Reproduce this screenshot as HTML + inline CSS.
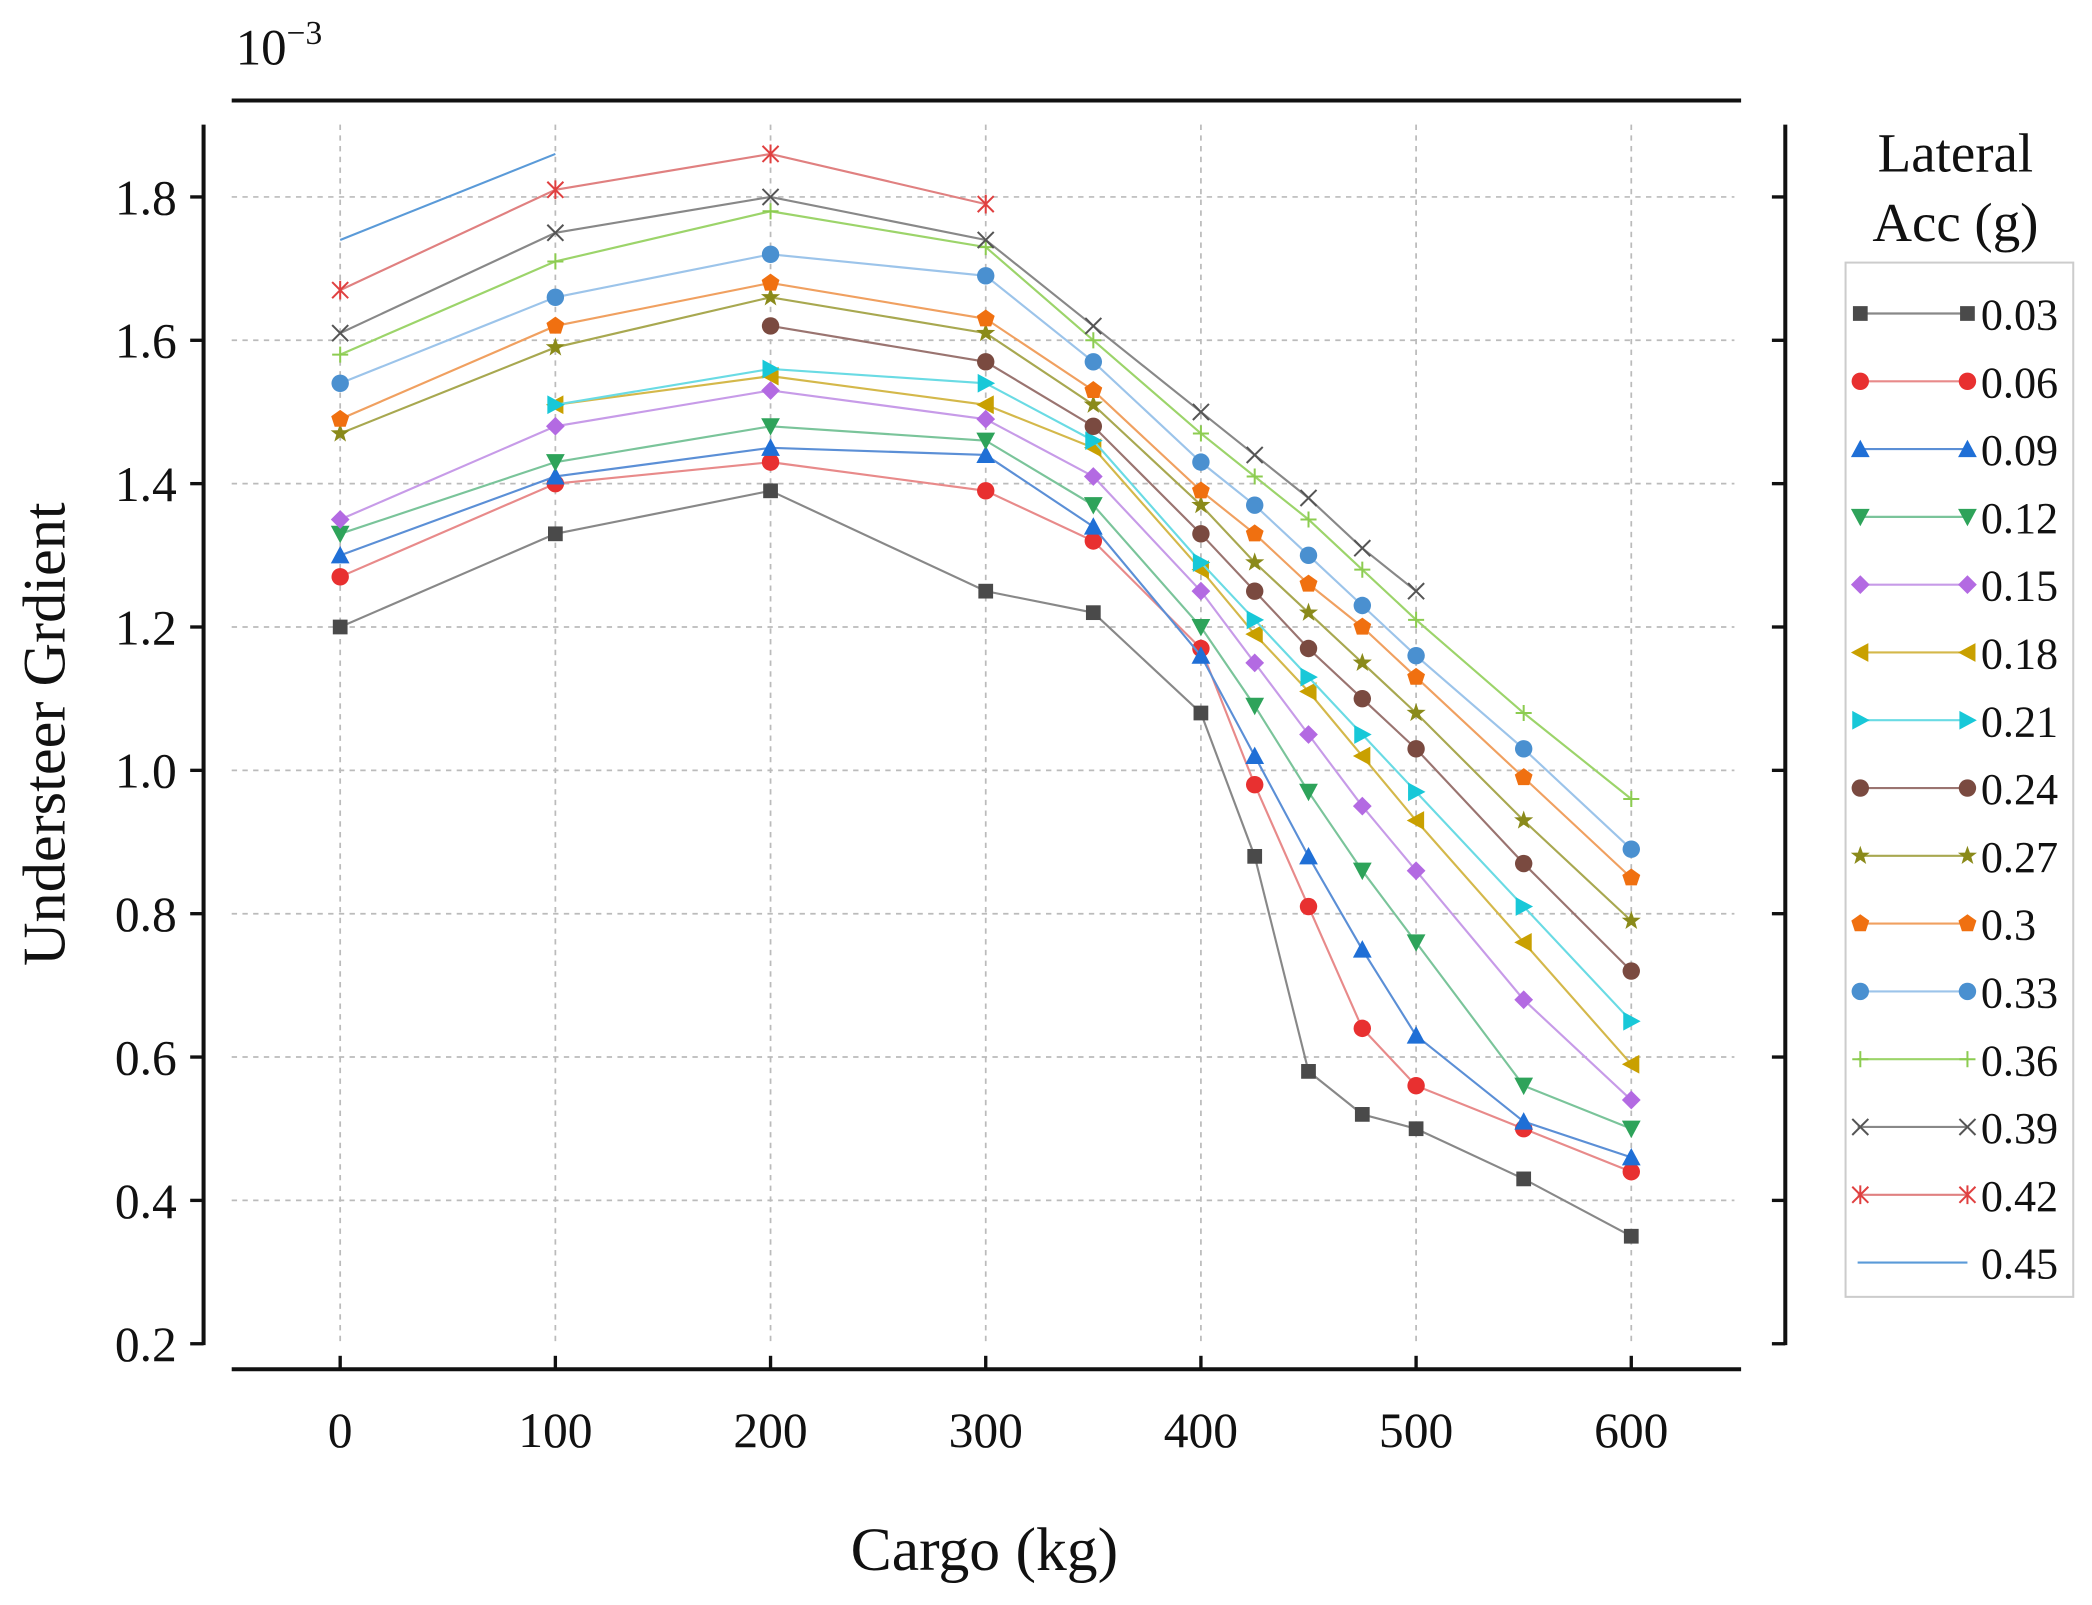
<!DOCTYPE html>
<html><head><meta charset="utf-8"><style>
html,body{margin:0;padding:0;background:#fff;}
svg{display:block;}
text{font-family:"Liberation Serif",serif;fill:#111;}
</style></head><body>
<svg id="s" width="2092" height="1605" viewBox="0 0 1562 1198" preserveAspectRatio="none" xmlns="http://www.w3.org/2000/svg">
<rect width="1562" height="1198" fill="#fff"/>
<g id="grid" stroke="#bbb" stroke-width="1.3" stroke-dasharray="4,4" fill="none"></g>
<g stroke="#111" stroke-width="3" fill="none">
<line x1="173" y1="75" x2="1300" y2="75"/>
<line x1="173" y1="1022" x2="1300" y2="1022"/>
<line x1="152" y1="93" x2="152" y2="1004"/>
<line x1="1333" y1="93" x2="1333" y2="1004"/>
</g>
<g id="ticks" stroke="#111" stroke-width="2.5"></g>
<g id="labels" font-size="37"></g>
<text x="176" y="48" font-size="38">10<tspan dy="-15" font-size="25">−3</tspan></text>
<text transform="translate(48,548) rotate(-90)" text-anchor="middle" font-size="45">Understeer Grdient</text>
<text x="735" y="1172" text-anchor="middle" font-size="46">Cargo (kg)</text>
<text x="1460" y="128" text-anchor="middle" font-size="41">Lateral</text>
<text x="1460" y="180" text-anchor="middle" font-size="41">Acc (g)</text>
<rect x="1378" y="196" width="170" height="772" fill="#fff" stroke="#ccc" stroke-width="1.5"/>
<g id="series"></g>
<g id="legend"></g>
</svg>
<script>
const NS="http://www.w3.org/2000/svg";
function el(p,t,a,txt){const e=document.createElementNS(NS,t);for(const k in a)e.setAttribute(k,a[k]);if(txt!=null)e.textContent=txt;p.appendChild(e);return e;}
const X=v=>254+v*(964/600), Y=v=>1003-(v-0.2)*535;
const grid=document.getElementById('grid'),ticks=document.getElementById('ticks'),labels=document.getElementById('labels');
for(let k=0;k<=6;k++){const x=X(k*100);el(grid,'line',{x1:x,y1:93,x2:x,y2:1003});el(ticks,'line',{x1:x,y1:1022,x2:x,y2:1012});el(labels,'text',{x:x,y:1080,'text-anchor':'middle'},String(k*100));}
for(let k=1;k<=9;k++){const v=k*0.2,y=Y(v);if(k>1)el(grid,'line',{x1:173,y1:y,x2:1295,y2:y});el(ticks,'line',{x1:142,y1:y,x2:152,y2:y});el(ticks,'line',{x1:1323,y1:y,x2:1333,y2:y});el(labels,'text',{x:132,y:y+13,'text-anchor':'end'},v.toFixed(1));}
const xs=[0,100,200,300,350,400,425,450,475,500,550,600];
const S=[
["0.03","#4a4a4a","#888","sq",[1.20,1.33,1.39,1.25,1.22,1.08,0.88,0.58,0.52,0.50,0.43,0.35]],
["0.06","#e83030","#e88a8a","ci",[1.27,1.40,1.43,1.39,1.32,1.17,0.98,0.81,0.64,0.56,0.50,0.44]],
["0.09","#1f6fd6","#5b8fd6","tu",[1.30,1.41,1.45,1.44,1.34,1.16,1.02,0.88,0.75,0.63,0.51,0.46]],
["0.12","#2ea35a","#7ac49a","td",[1.33,1.43,1.48,1.46,1.37,1.20,1.09,0.97,0.86,0.76,0.56,0.50]],
["0.15","#b36ae2","#c79be8","di",[1.35,1.48,1.53,1.49,1.41,1.25,1.15,1.05,0.95,0.86,0.68,0.54]],
["0.18","#c9a000","#d4b84a","tl",[null,1.51,1.55,1.51,1.45,1.28,1.19,1.11,1.02,0.93,0.76,0.59]],
["0.21","#18c8d8","#6adbe4","tr",[null,1.51,1.56,1.54,1.46,1.29,1.21,1.13,1.05,0.97,0.81,0.65]],
["0.24","#7a4a40","#9a7470","ci",[null,null,1.62,1.57,1.48,1.33,1.25,1.17,1.10,1.03,0.87,0.72]],
["0.27","#8a8a1a","#a8a850","st",[1.47,1.59,1.66,1.61,1.51,1.37,1.29,1.22,1.15,1.08,0.93,0.79]],
["0.3","#f07010","#f0a060","pe",[1.49,1.62,1.68,1.63,1.53,1.39,1.33,1.26,1.20,1.13,0.99,0.85]],
["0.33","#4a90d0","#9cc4ea","ci",[1.54,1.66,1.72,1.69,1.57,1.43,1.37,1.30,1.23,1.16,1.03,0.89]],
["0.36","#8ccc50","#9cd46a","pl",[1.58,1.71,1.78,1.73,1.60,1.47,1.41,1.35,1.28,1.21,1.08,0.96]],
["0.39","#555","#888","xx",[1.61,1.75,1.80,1.74,1.62,1.50,1.44,1.38,1.31,1.25,null,null]],
["0.42","#e04040","#e08080","as",[1.67,1.81,1.86,1.79,null,null,null,null,null,null,null,null]],
["0.45","#5a9ad8","#5a9ad8","no",[1.74,1.86,null,null,null,null,null,null,null,null,null,null]]];
function mk(g,t,x,y,c){const r=6.5;
switch(t){
case"sq":el(g,'rect',{x:x-5.5,y:y-5.5,width:11,height:11,fill:c});break;
case"ci":el(g,'circle',{cx:x,cy:y,r:r,fill:c});break;
case"tu":el(g,'polygon',{points:`${x},${y-7} ${x-7},${y+6} ${x+7},${y+6}`,fill:c});break;
case"td":el(g,'polygon',{points:`${x},${y+7} ${x-7},${y-6} ${x+7},${y-6}`,fill:c});break;
case"tl":el(g,'polygon',{points:`${x-7},${y} ${x+6},${y-7} ${x+6},${y+7}`,fill:c});break;
case"tr":el(g,'polygon',{points:`${x+7},${y} ${x-6},${y-7} ${x-6},${y+7}`,fill:c});break;
case"di":el(g,'polygon',{points:`${x},${y-7} ${x+7},${y} ${x},${y+7} ${x-7},${y}`,fill:c});break;
case"pe":{let p=[];for(let i=0;i<5;i++){const a=-Math.PI/2+i*2*Math.PI/5;p.push((x+7*Math.cos(a)).toFixed(1)+","+(y+7*Math.sin(a)).toFixed(1));}el(g,'polygon',{points:p.join(" "),fill:c});break;}
case"st":{let p=[];for(let i=0;i<10;i++){const a=-Math.PI/2+i*Math.PI/5,rr=i%2?3:7.5;p.push((x+rr*Math.cos(a)).toFixed(1)+","+(y+rr*Math.sin(a)).toFixed(1));}el(g,'polygon',{points:p.join(" "),fill:c});break;}
case"pl":el(g,'path',{d:`M${x-6} ${y}H${x+6}M${x} ${y-6}V${y+6}`,stroke:c,'stroke-width':1.5});break;
case"xx":el(g,'path',{d:`M${x-6} ${y-6}L${x+6} ${y+6}M${x+6} ${y-6}L${x-6} ${y+6}`,stroke:c,'stroke-width':1.5});break;
case"as":el(g,'path',{d:`M${x-6} ${y-6}L${x+6} ${y+6}M${x+6} ${y-6}L${x-6} ${y+6}M${x} ${y-7}V${y+7}`,stroke:c,'stroke-width':1.5});break;
}}
const sg=document.getElementById('series'),lg=document.getElementById('legend');
S.forEach((s,i)=>{const[n,c,lc,t,d]=s;let pts=[];d.forEach((v,j)=>{if(v!=null)pts.push([X(xs[j]),Y(v)]);});
el(sg,'polyline',{points:pts.map(p=>p.join(",")).join(" "),fill:"none",stroke:lc,'stroke-width':1.6});
pts.forEach(p=>mk(sg,t,p[0],p[1],c));
const y=234+i*50.6;el(lg,'line',{x1:1387,y1:y,x2:1469,y2:y,stroke:lc,'stroke-width':1.6});
if(t!="no"){mk(lg,t,1389,y,c);mk(lg,t,1469,y,c);}
el(lg,'text',{x:1479,y:y+12,'font-size':33},n);});
</script>
</body></html>
